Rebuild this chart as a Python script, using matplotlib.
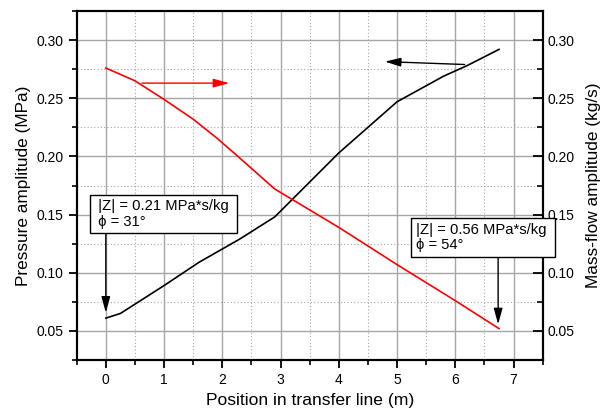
import matplotlib
matplotlib.use("Agg")
import matplotlib.pyplot as plt
from matplotlib.ticker import MultipleLocator, FormatStrFormatter

plt.rcParams['font.family'] = ['Liberation Sans', 'DejaVu Sans']

# Data
pos_black = [0.0, 0.25, 0.5, 1.0, 1.6, 2.3, 2.9, 3.2, 4.0, 4.5, 5.0, 5.8, 6.2, 6.75]
pressure = [0.061, 0.065, 0.073, 0.089, 0.109, 0.129, 0.148, 0.163, 0.203, 0.225, 0.247, 0.269, 0.278, 0.292]

pos_red = [0.0, 0.5, 1.0, 1.5, 1.9, 2.2, 2.9, 3.3, 4.0, 4.5, 5.0, 6.0, 6.75]
massflow = [0.276, 0.265, 0.249, 0.232, 0.216, 0.203, 0.172, 0.160, 0.139, 0.123, 0.107, 0.076, 0.052]

xlim = (-0.5, 7.5)
ylim = (0.025, 0.325)
box1_text = " |Z| = 0.21 MPa*s/kg \n \u03d5 = 31\u00b0"
box2_text = "|Z| = 0.56 MPa*s/kg \n\u03d5 = 54\u00b0"

fig = plt.figure(figsize=(6.03, 4.12), dpi=100)
ax = fig.add_axes([0.1272, 0.1262, 0.7728, 0.8471])
ax2 = ax.twinx()

for a in (ax, ax2):
    a.set_xlim(*xlim)
    a.set_ylim(*ylim)
    a.yaxis.set_major_locator(MultipleLocator(0.05))
    a.yaxis.set_minor_locator(MultipleLocator(0.025))
    a.yaxis.set_major_formatter(FormatStrFormatter('%.2f'))
    for s in a.spines.values():
        s.set_linewidth(1.5)

ax.xaxis.set_major_locator(MultipleLocator(1))
ax.xaxis.set_minor_locator(MultipleLocator(0.5))

ax.grid(which='major', color='#a6a6a6', linestyle='-', linewidth=1.0)
ax.grid(which='minor', color='#a6a6a6', linestyle=(0, (1, 2)), linewidth=0.8)
ax.set_axisbelow(True)

ax.tick_params(axis='both', which='major', direction='out', length=6, width=1.3, labelsize=10)
ax.tick_params(axis='both', which='minor', direction='out', length=3.5, width=1.2)
ax.tick_params(axis='x', which='both', top=False, labeltop=False)
ax.tick_params(axis='y', which='both', right=False, labelright=False)
ax2.tick_params(axis='y', which='major', direction='in', length=7, width=1.3, labelsize=10)
ax2.tick_params(axis='y', which='minor', direction='in', length=4, width=1.2)
ax2.tick_params(axis='y', which='both', left=False, labelleft=False)

ax.plot(pos_black, pressure, color='black', linewidth=1.2, zorder=3)
ax2.plot(pos_red, massflow, color='#ff0000', linewidth=1.2, zorder=3)

ax.set_xlabel('Position in transfer line (m)', fontsize=12.6, labelpad=4)
ax.set_ylabel('Pressure amplitude (MPa)', fontsize=12.4)
ax2.set_ylabel('Mass-flow amplitude (kg/s)', fontsize=12.4, rotation=90, labelpad=8)

# Direction arrows
ax2.annotate('', xy=(2.12, 0.263), xytext=(0.62, 0.263),
             arrowprops=dict(arrowstyle='-|>,head_length=0.8,head_width=0.22', mutation_scale=12,
                             color='#ff0000', lw=1.0, shrinkA=0, shrinkB=0))
ax2.annotate('', xy=(4.79, 0.2815), xytext=(6.16, 0.279),
             arrowprops=dict(arrowstyle='-|>,head_length=0.8,head_width=0.22', mutation_scale=12,
                             color='black', lw=1.0, shrinkA=0, shrinkB=0))

# Annotation boxes
bbox = dict(boxstyle='square,pad=0.3', facecolor='white', edgecolor='black', linewidth=1.0)
ax2.text(-0.2, 0.1506, box1_text, fontsize=10.6, ha='left', va='center', bbox=bbox,
         zorder=5, clip_on=False, linespacing=1.15)
ax2.text(5.32, 0.1304, box2_text, fontsize=10.6, ha='left', va='center', bbox=bbox,
         zorder=5, clip_on=False, linespacing=1.15)

ax2.annotate('', xy=(0.0, 0.0657), xytext=(0.0, 0.1332),
             arrowprops=dict(arrowstyle='-|>,head_length=0.8,head_width=0.22', mutation_scale=12,
                             color='black', lw=1.0, shrinkA=0, shrinkB=0), zorder=6)
ax2.annotate('', xy=(6.735, 0.0557), xytext=(6.735, 0.1129),
             arrowprops=dict(arrowstyle='-|>,head_length=0.8,head_width=0.22', mutation_scale=12,
                             color='black', lw=1.0, shrinkA=0, shrinkB=0), zorder=6)

fig.savefig('out.png', dpi=100)
